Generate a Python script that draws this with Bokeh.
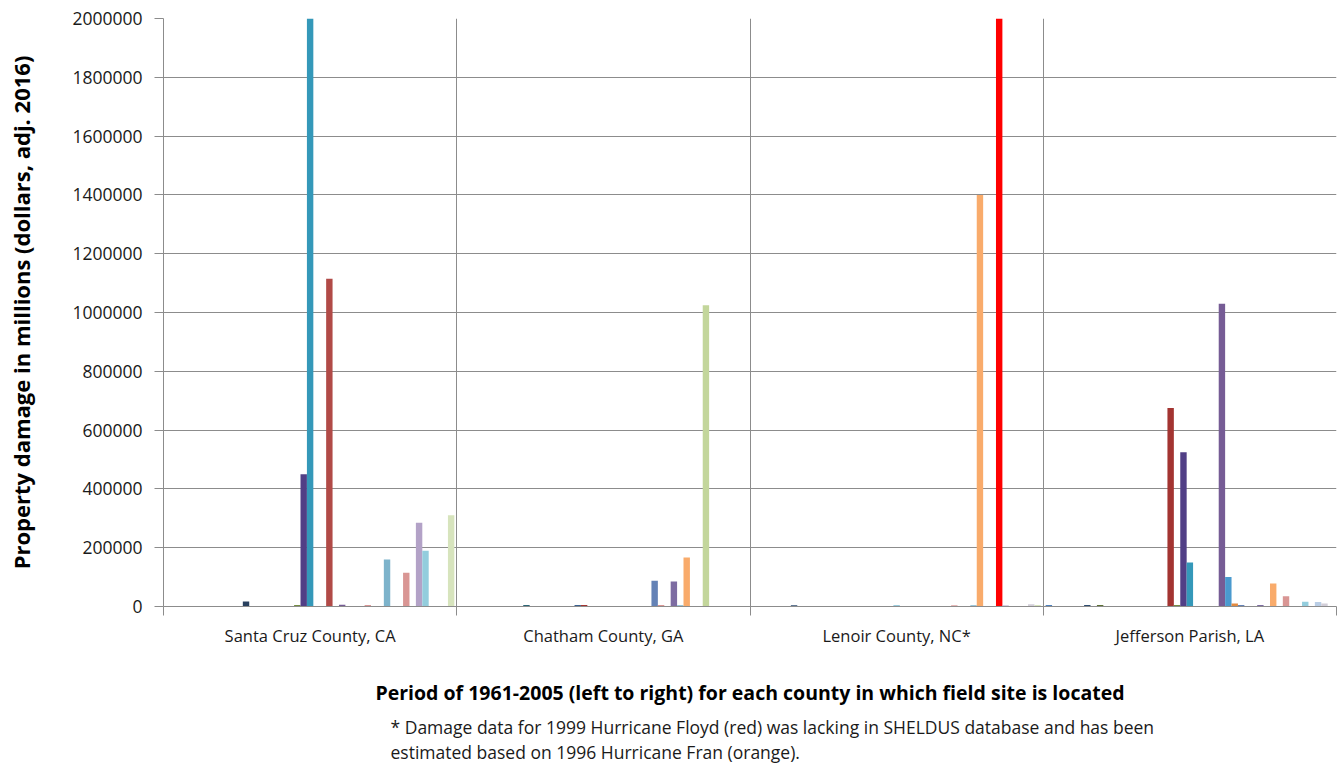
from bokeh.plotting import figure
from bokeh.models import ColumnDataSource, Range1d, FixedTicker, BasicTickFormatter, Title
from bokeh.embed import file_html
from bokeh.resources import INLINE

# ---------------- data ----------------
counties = ["Santa Cruz County, CA", "Chatham County, GA", "Lenoir County, NC*", "Jefferson Parish, LA"]
years = list(range(1961, 2006))  # 45 years, left to right

santa_cruz = [0, 0, 0, 0, 0, 0, 0, 0, 0, 0, 0, 0, 17000, 0, 0, 0, 0, 0, 0, 0,
              5000, 450000, 2000000, 0, 0, 1115000, 0, 6000, 0, 0, 0, 4000, 0, 0, 160000,
              0, 0, 115000, 0, 285000, 190000, 0, 0, 0, 310000]
chatham = [0, 0, 0, 0, 0, 0, 0, 0, 0, 0, 5000, 0, 0, 0, 0, 0, 0, 0, 5000, 5000,
           0, 0, 0, 0, 0, 0, 0, 0, 0, 0, 88000, 4000, 0, 85000, 4000,
           167000, 0, 0, 1025000, 0, 0, 0, 0, 0, 0]
lenoir = [0, 0, 0, 0, 0, 0, 4000, 0, 0, 0, 0, 0, 0, 0, 0, 0, 0, 0, 0, 0,
          0, 0, 3000, 0, 0, 0, 0, 0, 0, 0, 0, 3000, 0, 0, 4000,
          1400000, 0, 0, 2000000, 3000, 0, 0, 0, 8000, 5000]
jefferson = [5000, 0, 0, 0, 0, 0, 5000, 0, 5000, 0, 0, 0, 0, 0, 0, 0, 0, 0, 0, 675000,
             5000, 525000, 150000, 0, 0, 0, 0, 1030000, 100000, 10000, 5000, 0, 0, 5000, 0,
             78000, 0, 35000, 0, 0, 16000, 0, 15000, 10000, 0]
series = [santa_cruz, chatham, lenoir, jefferson]

y_ticks = [0, 200000, 400000, 600000, 800000, 1000000, 1200000, 1400000, 1600000, 1800000, 2000000]

# ---------------- style: Excel-like series palette ----------------
accents = ["#4F81BD", "#C0504D", "#9BBB59", "#8064A2", "#4BACC6", "#F79646"]
cycles = [("s", 1.0), ("s", 0.6), ("s", 0.5), ("s", 0.76), ("s", 0.92), ("t", 0.2), ("t", 0.4), ("t", 0.6)]


def adjust(h, kind, f):
    rgb = [int(h[i:i + 2], 16) for i in (1, 3, 5)]
    if kind == "s":
        rgb = [round(c * f) for c in rgb]
    else:
        rgb = [round(c + (255 - c) * f) for c in rgb]
    return "#%02x%02x%02x" % tuple(rgb)


palette = [adjust(accents[i % 6], *cycles[i // 6]) for i in range(len(years))]
palette[19] = "#A33431"
palette[21] = "#513F86"
palette[22] = "#3498B9"
palette[28] = "#4A9ACF"
palette[30] = "#6482B6"
palette[33] = "#7D6CA2"
palette[34] = "#7DB3CB"
palette[43] = "#D2CED8"
# per-point override: estimated 1999 Hurricane Floyd bar in Lenoir County drawn in red
override = {(2, 1999 - 1961): "#FF0000"}

n = len(years)
slots = n + 0.75
xs, tops, cols = [], [], []
for g, vals in enumerate(series):
    for i, v in enumerate(vals):
        xs.append(g + (0.375 + i + 0.5) / slots)
        tops.append(v)
        cols.append(override.get((g, i), palette[i]))
src = ColumnDataSource(dict(x=xs, top=tops, color=cols))

FONT = "Open Sans"
GRID = "#8c8c8c"

p = figure(width=1338, height=769, output_backend="svg", toolbar_location=None,
           x_range=Range1d(0, len(counties)), y_range=Range1d(0, 2000000),
           min_border_left=163, min_border_right=2, min_border_top=18, min_border_bottom=160)
p.outline_line_color = None
p.background_fill_color = "white"

p.vbar(x="x", top="top", width=1.0 / slots, bottom=0, fill_color="color", line_color=None, source=src)

# y axis
p.yaxis.ticker = FixedTicker(ticks=y_ticks)
p.yaxis.formatter = BasicTickFormatter(use_scientific=False)
p.yaxis.axis_line_color = GRID
p.yaxis.major_tick_line_color = GRID
p.yaxis.major_tick_out = 9
p.yaxis.major_tick_in = 0
p.yaxis.minor_tick_line_color = None
p.yaxis.major_label_text_font = FONT
p.yaxis.major_label_text_font_size = "17.5px"
p.yaxis.major_label_text_color = "#1a1a1a"
p.yaxis.major_label_standoff = 12
p.yaxis.axis_label = "Property damage in millions (dollars, adj. 2016)"
p.yaxis.axis_label_text_font = FONT
p.yaxis.axis_label_text_font_style = "bold"
p.yaxis.axis_label_text_font_size = "22px"
p.yaxis.axis_label_text_color = "#000000"
p.yaxis.axis_label_standoff = 33

# x axis: labels at group centres, tick marks at group boundaries
centers = [g + 0.5 for g in range(len(counties))]
p.xaxis.ticker = FixedTicker(ticks=centers, minor_ticks=list(range(len(counties) + 1)))
p.xaxis.major_label_overrides = {c: name for c, name in zip(centers, counties)}
p.xaxis.axis_line_color = GRID
p.xaxis.major_tick_line_color = None
p.xaxis.minor_tick_line_color = GRID
p.xaxis.minor_tick_out = 9
p.xaxis.minor_tick_in = 0
p.xaxis.major_label_text_font = FONT
p.xaxis.major_label_text_font_size = "16.5px"
p.xaxis.major_label_text_color = "#1a1a1a"
p.xaxis.major_label_standoff = 8
p.xaxis.axis_label = "Period of 1961-2005 (left to right) for each county in which field site is located"
p.xaxis.axis_label_text_font = FONT
p.xaxis.axis_label_text_font_style = "bold"
p.xaxis.axis_label_text_font_size = "19.5px"
p.xaxis.axis_label_text_color = "#000000"
p.xaxis.axis_label_standoff = 29

# grids
p.xgrid.ticker = FixedTicker(ticks=list(range(1, len(counties) + 1)))
p.xgrid.grid_line_color = GRID
p.ygrid.ticker = FixedTicker(ticks=y_ticks)
p.ygrid.grid_line_color = GRID

# footnote
notes = ["* Damage data for 1999 Hurricane Floyd (red) was lacking in SHELDUS database and has been",
         "estimated based on 1996 Hurricane Fran (orange)."]
t = Title(text="\n".join(notes), align="left", offset=227,
          text_font=FONT, text_font_size="17.5px", text_font_style="normal", text_color="#1a1a1a",
          text_line_height=1.06, standoff=10)
p.add_layout(t, "below")

open("out.html", "w").write(file_html(p, INLINE))
